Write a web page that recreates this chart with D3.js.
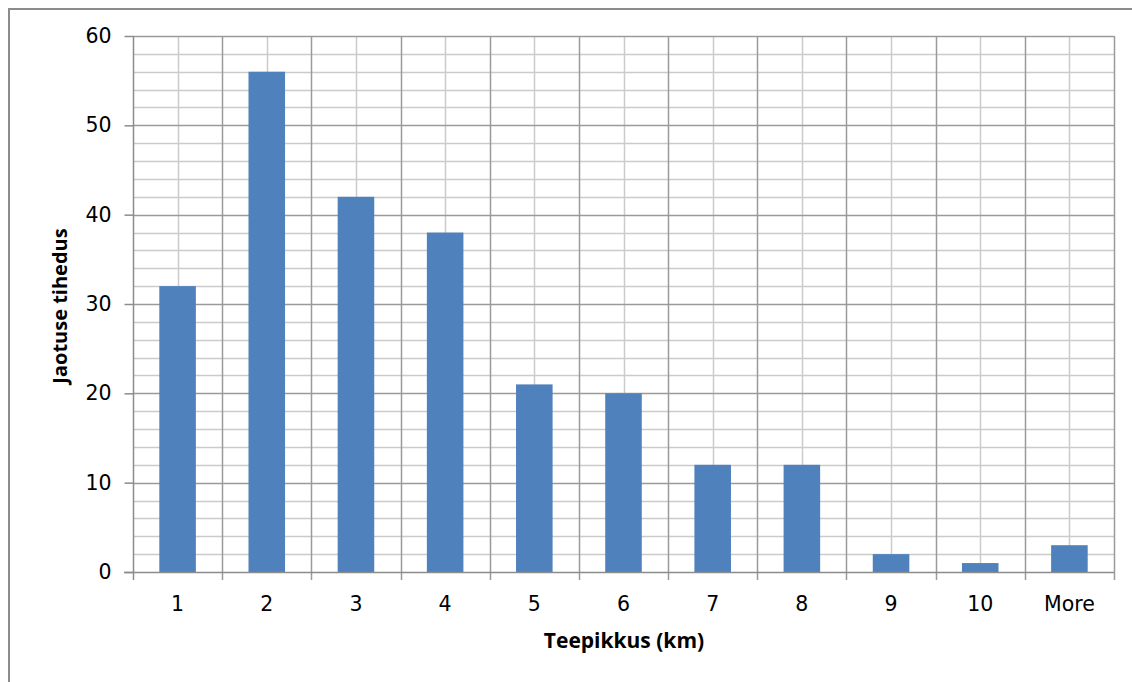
<!DOCTYPE html>
<html>
<head>
<meta charset="utf-8">
<script src="https://cdn.jsdelivr.net/npm/d3@7"></script>
<style>
  html, body { margin: 0; padding: 0; background: #fff; }
  svg { display: block; }
  text { font-family: "DejaVu Sans", "Open Sans", sans-serif; fill: #000; }
  .axis-title { font-family: "Open Sans", "DejaVu Sans", sans-serif; font-weight: bold; }
</style>
</head>
<body>
<svg id="chart" width="1132" height="682"></svg>
<script>
// Histogram of road lengths
const categories = ["1", "2", "3", "4", "5", "6", "7", "8", "9", "10", "More"];
const frequencies = [32, 56, 42, 38, 21, 20, 12, 12, 2, 1, 3];
const yTicks = [0, 10, 20, 30, 40, 50, 60];
const xTitle = "Teepikkus (km)";
const yTitle = "Jaotuse tihedus";

const svg = d3.select("#chart");
const W = 1132, H = 682;
const plot = { left: 133, right: 1114, top: 36, bottom: 572 };

// outer chart frame
svg.append("rect")
  .attr("x", 9).attr("y", 9)
  .attr("width", W + 20).attr("height", H + 20)
  .attr("fill", "#fff").attr("stroke", "#8c8c8c").attr("stroke-width", 2);

const x = d3.scaleBand().domain(categories)
  .range([plot.left, plot.right]).paddingInner(0).paddingOuter(0);
const y = d3.scaleLinear().domain([0, 60]).range([plot.bottom, plot.top]);

const g = svg.append("g");

// minor horizontal gridlines every 2
const minor = d3.range(0, 61, 2).filter(v => v % 10 !== 0);
g.selectAll(".hminor").data(minor).join("line")
  .attr("x1", plot.left).attr("x2", plot.right)
  .attr("y1", d => Math.round(y(d)) + 0.5).attr("y2", d => Math.round(y(d)) + 0.5)
  .attr("stroke", "#cbcbcb").attr("stroke-width", 1.5);

// minor vertical gridlines at category centres
g.selectAll(".vminor").data(categories).join("line")
  .attr("x1", d => Math.round(x(d) + x.bandwidth() / 2) + 0.5)
  .attr("x2", d => Math.round(x(d) + x.bandwidth() / 2) + 0.5)
  .attr("y1", plot.top).attr("y2", plot.bottom)
  .attr("stroke", "#cbcbcb").attr("stroke-width", 1.5);

// major horizontal gridlines
g.selectAll(".hmajor").data(yTicks.filter(v => v > 0)).join("line")
  .attr("x1", plot.left).attr("x2", plot.right)
  .attr("y1", d => Math.round(y(d)) + 0.5).attr("y2", d => Math.round(y(d)) + 0.5)
  .attr("stroke", "#9a9a9a").attr("stroke-width", 1.5);

// major vertical gridlines at category boundaries
const bounds = categories.map(c => x(c)).slice(1).concat([plot.right]);
g.selectAll(".vmajor").data(bounds).join("line")
  .attr("x1", d => Math.round(d) + 0.5).attr("x2", d => Math.round(d) + 0.5)
  .attr("y1", plot.top).attr("y2", plot.bottom + 8)
  .attr("stroke", "#9a9a9a").attr("stroke-width", 1.5);

// bars
const barW = x.bandwidth() * 0.41;
g.selectAll(".bar").data(frequencies).join("rect")
  .attr("x", (d, i) => x(categories[i]) + (x.bandwidth() - barW) / 2)
  .attr("width", barW)
  .attr("y", d => y(d))
  .attr("height", d => y(0) - y(d))
  .attr("fill", "#4f81bd");

// y axis
const yAxis = d3.axisLeft(y).tickValues(yTicks).tickSize(9).tickPadding(13);
const ya = svg.append("g").attr("transform", `translate(${plot.left + 0.5},0)`).call(yAxis);
ya.select(".domain").attr("stroke", "#8c8c8c").attr("stroke-width", 1.5)
  .attr("d", `M0,${plot.top}V${plot.bottom}`);
ya.selectAll(".tick line").attr("stroke", "#8c8c8c").attr("stroke-width", 1.5);
ya.selectAll(".tick text").style("font-size", "20.5px").attr("fill", "#000");

// x axis
const xAxis = d3.axisBottom(x).tickSize(0).tickPadding(24);
const xa = svg.append("g").attr("transform", `translate(0,${plot.bottom + 0.5})`).call(xAxis);
xa.select(".domain").attr("stroke", "#8c8c8c").attr("stroke-width", 1.5)
  .attr("d", `M${plot.left - 9},0H${plot.right}`);
xa.selectAll(".tick text").style("font-size", "20.5px").attr("fill", "#000");
// tick mark at left edge of the category axis
svg.append("line")
  .attr("x1", plot.left + 0.5).attr("x2", plot.left + 0.5)
  .attr("y1", plot.bottom).attr("y2", plot.bottom + 8)
  .attr("stroke", "#8c8c8c").attr("stroke-width", 1.5);

// axis titles
svg.append("text").attr("class", "axis-title")
  .attr("x", 624).attr("y", 648)
  .attr("text-anchor", "middle")
  .style("font-size", "21px")
  .text(xTitle);

svg.append("text").attr("class", "axis-title")
  .attr("transform", `translate(67,306) rotate(-90)`)
  .attr("text-anchor", "middle")
  .style("font-size", "20px")
  .text(yTitle);
</script>
</body>
</html>
